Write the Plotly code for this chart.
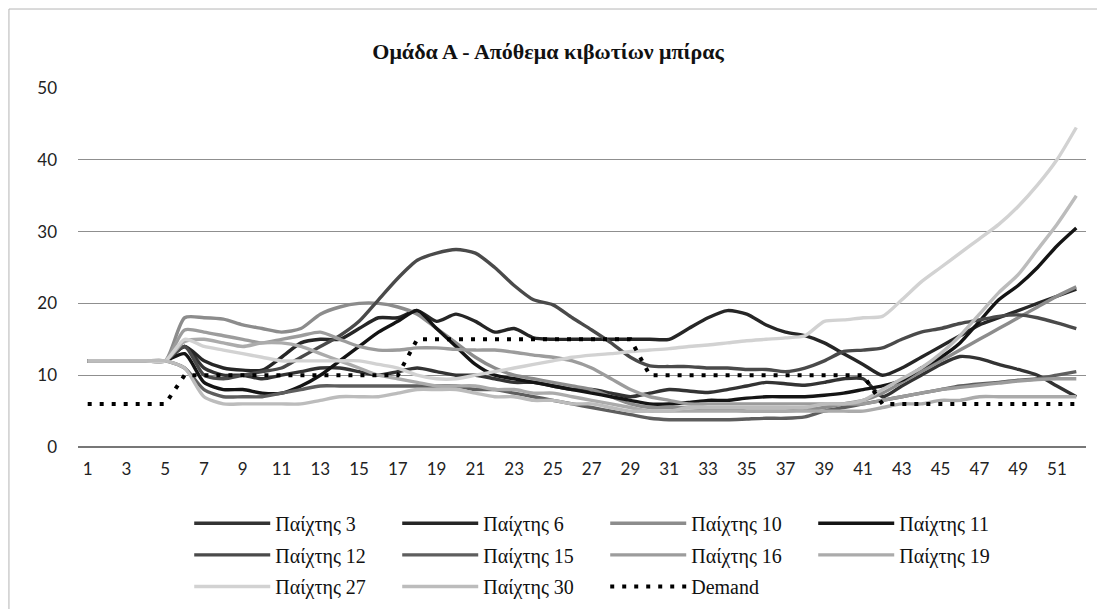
import plotly.graph_objects as go

weeks = list(range(1, 53))
x_ticks = list(range(1, 52, 2))
y_ticks = [0, 10, 20, 30, 40, 50]

title_text = "Ομάδα Α - Απόθεμα κιβωτίων μπίρας"

player_names = ["Παίχτης 3", "Παίχτης 6", "Παίχτης 10", "Παίχτης 11", "Παίχτης 12",
                "Παίχτης 15", "Παίχτης 16", "Παίχτης 19", "Παίχτης 27", "Παίχτης 30"]

p3 = [12, 12, 12, 12, 12, 14, 11, 10, 10, 9.5, 10, 10.5, 11, 11, 10.5, 10, 10.5, 11, 10.5, 10,
      10, 9.5, 9, 9, 8.5, 8, 8, 7.5, 7, 7.5, 8, 7.8, 7.6, 8, 8.5, 9, 8.8, 8.6, 9, 9.5,
      9.5, 7, 8.5, 10, 11.5, 12.6, 12.3, 11.5, 10.8, 10, 8.5, 7]
p6 = [12, 12, 12, 12, 12, 14, 12, 11, 10.7, 10.7, 12.5, 14.5, 15, 15, 16.5, 18, 18, 19, 17.5, 18.5,
      17.5, 16, 16.5, 15.2, 15, 15, 15, 15, 15, 15, 15, 16.5, 18, 19, 18.5, 17, 16, 15.5, 14.5, 13,
      11.5, 10, 11, 12.5, 14, 15.5, 17, 18, 19, 20, 21, 22]
p10 = [12, 12, 12, 12, 12, 18, 18, 17.8, 17, 16.5, 16, 16.5, 18.5, 19.5, 20, 20, 19.5, 18.5, 16.5, 14.5,
       12.5, 11, 10, 9.5, 9, 8.5, 8, 7, 6, 5.5, 5.5, 5.5, 5.3, 5.2, 5, 5, 5, 5.2, 5.5, 6,
       6.5, 7.5, 9, 10.5, 12, 13.5, 15, 16.5, 18, 19.5, 21, 22.3]
p11 = [12, 12, 12, 12, 12, 13, 9, 8, 8, 7.5, 7.5, 8.5, 10, 12, 14, 16, 17.5, 19, 16.5, 14,
       11.5, 10, 9.5, 9, 8.5, 8, 7.5, 7, 6.5, 6, 6, 6.2, 6.5, 6.5, 6.8, 7, 7, 7, 7.2, 7.5,
       8, 8.5, 9.3, 11, 12.5, 14.5, 17.5, 20.5, 22.5, 25, 28, 30.5]
p12 = [12, 12, 12, 12, 12, 14, 10, 9.5, 10, 10.5, 11, 12.5, 14, 15.5, 17.5, 20.5, 23.5, 26, 27, 27.5,
       27, 25, 22.5, 20.5, 19.8, 18, 16.3, 14.5, 12.5, 11.3, 11.2, 11.2, 11, 11, 10.8, 10.8, 10.5, 11, 12, 13.3,
       13.5, 13.8, 15, 16, 16.5, 17.2, 17.7, 18.2, 18.4, 18, 17.3, 16.5]
p15 = [12, 12, 12, 12, 12, 11, 8, 7, 7, 7, 7.5, 8, 8.5, 8.5, 8.5, 8.5, 8.5, 8.5, 8.5, 8.5,
       8, 8, 7.5, 7, 6.5, 6, 5.5, 5, 4.5, 4, 3.8, 3.8, 3.8, 3.8, 3.9, 4, 4, 4.2, 5, 5.5,
       6, 6.5, 7, 7.5, 8, 8.5, 8.8, 9, 9.3, 9.5, 10, 10.5]
p16 = [12, 12, 12, 12, 12, 16.3, 16, 15.5, 15, 14.5, 15, 15.5, 16, 15, 14, 13.5, 13.5, 13.8, 13.8, 13.6,
       13.5, 13.5, 13.2, 12.8, 12.5, 12, 11, 9.5, 8, 7, 6.5, 6, 6, 6, 6, 6, 6, 6, 6, 6,
       6, 6.5, 7, 7.5, 8, 8.3, 8.6, 8.9, 9.2, 9.4, 9.5, 9.5]
p19 = [12, 12, 12, 12, 12, 14.7, 15, 14.5, 14, 14.5, 14.5, 14, 13, 12, 11, 10, 9.5, 9, 8.5, 8.5,
       8.5, 8, 8, 7.5, 7.5, 7, 6.5, 6, 5.5, 5, 5, 5, 5, 5, 5, 5, 5, 5, 5, 5,
       5, 5.5, 6, 6, 6.5, 6.5, 7, 7, 7, 7, 7, 7]
p27 = [12, 12, 12, 12, 12, 15, 14, 13.5, 13, 12.5, 12, 12, 12, 12, 12, 11.5, 11, 10, 9.5, 9.5,
       10, 10.5, 11, 11.5, 12, 12.5, 12.8, 13, 13.3, 13.5, 13.7, 14, 14.2, 14.5, 14.8, 15, 15.2, 15.5, 17.5, 17.7,
       18, 18.2, 20.5, 23, 25, 27, 29, 31, 33.5, 36.5, 40, 44.5]
p30 = [12, 12, 12, 12, 12, 11, 7, 6, 6, 6, 6, 6, 6.5, 7, 7, 7, 7.5, 8, 8, 8,
       7.5, 7, 7, 6.5, 6.5, 6, 6, 5.5, 5, 5, 5, 5.5, 5.5, 5.5, 5.5, 5.5, 5.5, 5.5, 6, 6,
       6.5, 8, 9.5, 11, 13, 15.5, 18.5, 21.5, 24, 27.5, 31, 35]
demand = [6] * 5 + [10] * 12 + [15] * 12 + [10] * 12 + [6] * 11

player_series = [p3, p6, p10, p11, p12, p15, p16, p19, p27, p30]
player_colors = ["#333333", "#262626", "#8c8c8c", "#141414", "#4a4a4a",
                 "#5e5e5e", "#9c9c9c", "#ababab", "#d2d2d2", "#bcbcbc"]
legend_rows = ["legend", "legend", "legend", "legend",
               "legend2", "legend2", "legend2", "legend2",
               "legend3", "legend3"]

fig = go.Figure()
for name, vals, col, lg in zip(player_names, player_series, player_colors, legend_rows):
    fig.add_trace(go.Scatter(x=weeks, y=vals, name=name, mode="lines",
                             line=dict(color=col, width=3.4, shape="spline", smoothing=0.7),
                             legend=lg))
fig.add_trace(go.Scatter(x=weeks, y=demand, name="Demand", mode="lines",
                         line=dict(color="#000000", width=4, dash="4px,8px"), legend="legend3"))

leg_common = dict(orientation="h", xanchor="left", yanchor="middle",
                  xref="container", yref="container",
                  font=dict(family="Liberation Serif, Times New Roman, serif", size=20, color="#111111"),
                  entrywidth=117, entrywidthmode="pixels", itemwidth=76,
                  bgcolor="rgba(0,0,0,0)", traceorder="normal")

fig.update_layout(
    width=1105, height=609,
    paper_bgcolor="white", plot_bgcolor="white",
    margin=dict(l=70, r=27, t=80, b=170, autoexpand=False),
    title=dict(text="<b>" + title_text + "</b>", x=0.4887, xanchor="center", y=0.9285, yanchor="middle",
               font=dict(family="Liberation Serif, Times New Roman, serif", size=22, color="#111111")),
    xaxis=dict(range=[0.5, 52.5], tickmode="array", tickvals=x_ticks, ticktext=[str(v) for v in x_ticks],
               showgrid=False, zeroline=False, showline=False, ticks="",
               tickfont=dict(family="Lato, Open Sans, sans-serif", size=17, color="#222222"),
               ticklabelstandoff=10),
    yaxis=dict(range=[0, 50], tickmode="array", tickvals=y_ticks, showgrid=True, gridcolor="#8f8f8f",
               gridwidth=1, zeroline=True, zerolinecolor="#777777", zerolinewidth=1.5, ticks="",
               tickfont=dict(family="Lato, Open Sans, sans-serif", size=17, color="#222222"),
               ticklabelstandoff=20),
    legend=dict(x=0.164, y=0.154, **leg_common),
    legend2=dict(x=0.164, y=0.102, **leg_common),
    legend3=dict(x=0.164, y=0.050, **leg_common),
    shapes=[dict(type="rect", xref="paper", yref="paper", x0=-0.0685, x1=1.025, y0=-0.48, y1=1.22,
                 line=dict(color="#b5b5b5", width=1))],
)

fig.write_html("out.html")
